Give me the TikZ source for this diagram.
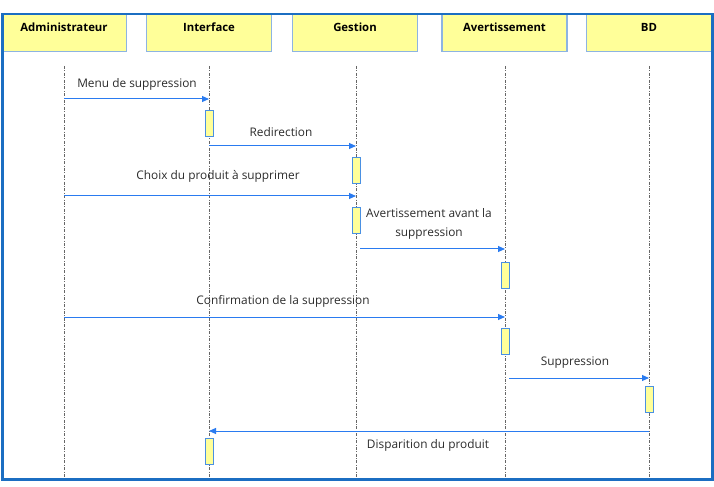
\documentclass[tikz,border=0pt]{standalone}
\usepackage{fontspec}
\setmainfont{Open Sans}
\usetikzlibrary{arrows.meta}
\definecolor{hdrfill}{HTML}{FFFF99}
\definecolor{hdrline}{HTML}{8DB4E2}
\definecolor{frameblue}{HTML}{1B6EC2}
\definecolor{msgblue}{HTML}{2A7BF0}
\definecolor{actline}{HTML}{4A90E2}
\definecolor{txt}{HTML}{2B2B2B}
\begin{document}
\begin{tikzpicture}[x=1bp,y=-1bp,
  hdr/.style={draw=hdrline, fill=hdrfill, line width=1.2bp, minimum width=125bp,
    inner ysep=0pt, text height=18bp, text depth=20bp, anchor=north,
    font=\fontsize{11.4}{13}\selectfont\bfseries},
  life/.style={draw=black!60, line width=0.8bp,
    dash pattern=on 3bp off 1.5bp on 0.8bp off 1.5bp},
  act/.style={draw=actline, fill=hdrfill, line width=1bp, minimum width=8bp,
    inner sep=0pt, anchor=north},
  msg/.style={draw=msgblue, line width=1bp, -{Triangle[length=7bp,width=6bp]}},
  lbl/.style={text=txt, inner sep=1bp, font=\fontsize{11.9}{19.5}\selectfont}
]
\useasboundingbox (0,0) rectangle (714,487);
% headers
\node[hdr] (hA) at (64,13) {Administrateur};
\node[hdr] (hI) at (209,13) {Interface};
\node[hdr] (hG) at (355,13) {Gestion};
\node[hdr] (hV) at (504.5,13) {Avertissement};
\node[hdr] (hB) at (649,13) {BD};
% frame
\node[draw=frameblue, line width=2.5bp, minimum width=710bp, minimum height=465bp,
  inner sep=0pt, anchor=north west] (frame) at (1,13) {};
% lifelines
\coordinate (lA0) at (64,66);  \coordinate (lA1) at (64,477);
\coordinate (lI0) at (209,66); \coordinate (lI1) at (209,477);
\coordinate (lG0) at (356,66); \coordinate (lG1) at (356,477);
\coordinate (lV0) at (505,66); \coordinate (lV1) at (505,477);
\coordinate (lB0) at (649,66); \coordinate (lB1) at (649,477);
\foreach \l in {A,I,G,V,B} \draw[life] (l\l0) -- (l\l1);
% activations
\node[act, minimum height=26bp] (a1) at (209.5,110) {};
\node[act, minimum height=26bp] (a2) at (356.5,157) {};
\node[act, minimum height=26bp] (a3) at (356.5,207) {};
\node[act, minimum height=26bp] (a4) at (505,262) {};
\node[act, minimum height=26bp] (a5) at (505,328) {};
\node[act, minimum height=26bp] (a6) at (649,386) {};
\node[act, minimum height=26bp] (a7) at (209,438) {};
% message end points
\coordinate (m1s) at (64,99);   \coordinate (m1e) at (209,99);
\coordinate (m2s) at (209,146); \coordinate (m2e) at (356,146);
\coordinate (m3s) at (64,196);  \coordinate (m3e) at (356,196);
\coordinate (m4s) at (360,249); \coordinate (m4e) at (505,249);
\coordinate (m5s) at (64,317);  \coordinate (m5e) at (505,317);
\coordinate (m6s) at (509,378); \coordinate (m6e) at (649,378);
\coordinate (m7s) at (649,431); \coordinate (m7e) at (209,431);
\foreach \m in {1,...,7} \draw[msg] (m\m s) -- (m\m e);
% labels
\node[lbl] (t1) at (137,84) {Menu de suppression};
\node[lbl] (t2) at (281,132) {Redirection};
\node[lbl] (t3) at (218,176) {Choix du produit à supprimer};
\node[lbl, align=center] (t4) at (429,224) {Avertissement avant la\\suppression};
\node[lbl] (t5) at (283,301) {Confirmation de la suppression};
\node[lbl] (t6) at (575,363) {Suppression};
\node[lbl] (t7) at (428,445) {Disparition du produit};
\end{tikzpicture}
\end{document}
